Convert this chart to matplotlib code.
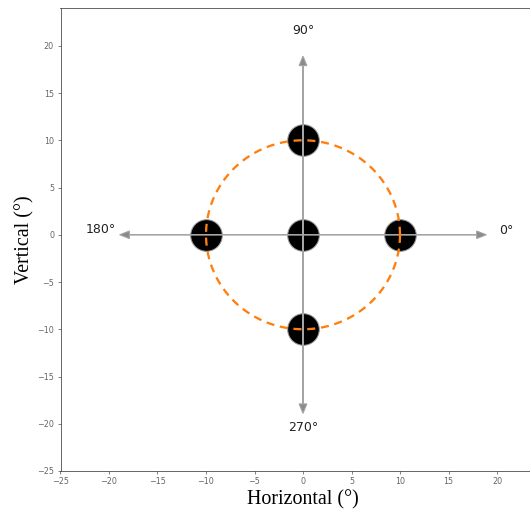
import numpy as np
import matplotlib
matplotlib.use("Agg")
import matplotlib.pyplot as plt

# Data
dot_x = [0, -10, 0, 10, 0]
dot_y = [10, 0, 0, 0, -10]
circle_radius = 10
arrow_dirs = [(1, 0), (-1, 0), (0, 1), (0, -1)]
arrow_labels = ["0°", "180°", "90°", "270°"]
label_pos = [(21.0, 0.4), (-20.8, 0.6), (0, 21.6), (0, -20.4)]
ticks = [-25, -20, -15, -10, -5, 0, 5, 10, 15, 20]

fig = plt.figure(figsize=(530 / 72, 512 / 72), dpi=72)
ax = fig.add_axes([60.5 / 530, 41 / 512, 485 / 530, 463 / 512])
ax.set_xlim(-25, 25)
ax.set_ylim(-25, 24)

ax.scatter(dot_x, dot_y, s=1000, c="black", edgecolors="#999999", linewidths=1, zorder=2)

for (dx, dy) in arrow_dirs:
    ax.arrow(0, 0, dx * 17.9, dy * 17.9, head_width=0.8, head_length=1.0,
             fc="#8a8a8a", ec="#a5a5a5", lw=1.1, length_includes_head=False, zorder=3)

for lab, (tx, ty) in zip(arrow_labels, label_pos):
    ax.text(tx, ty, lab, fontsize=12.5, ha="center", va="center", color="#222222",
            family="DejaVu Sans")

t = np.linspace(0, 2 * np.pi, 400)
ax.plot(circle_radius * np.cos(t), circle_radius * np.sin(t), ls=(0, (3.5, 2.5)),
        color="#ff7f0e", lw=2.3, zorder=4)

ax.set_xticks(ticks)
ax.set_yticks(ticks)
ax.tick_params(labelsize=8, colors="#666666", length=3)
for sp in ax.spines.values():
    sp.set_color("#444444")

ax.set_xlabel("Horizontal (°)", fontsize=20, family="Liberation Serif", labelpad=4)
ax.set_ylabel("Vertical (°)", fontsize=20, family="Liberation Serif", labelpad=3)

fig.savefig("out.png", dpi=72)
